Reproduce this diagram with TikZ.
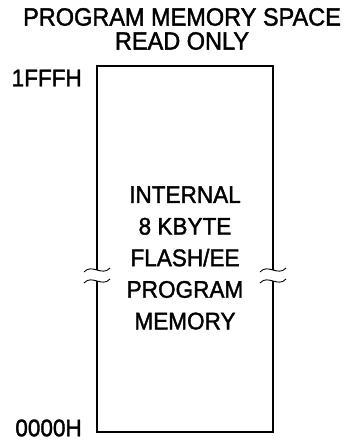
\documentclass[tikz,border=0pt]{standalone}
\usepackage{fontspec}
\setmainfont[FakeBold=1.6,FakeStretch=0.94]{Liberation Sans}
\usepackage{tikz}
\tikzset{
	pics/breakmark/.style={
		code={
			\draw[line width=0.9pt] (-13,2) .. controls (-5,-7) and (5,7) .. (13,-2);
			\draw[line width=0.9pt] (-13,13) .. controls (-5,4) and (5,18) .. (13,9);
		}
	},
	memtext/.style={font=\fontsize{24}{31.6}\selectfont, inner sep=0pt, align=center},
	titletext/.style={font=\fontsize{25}{24}\selectfont, inner sep=0pt, align=center},
	memline/.style={line width=1.3pt}
}

\begin{document}
\begin{tikzpicture}[x=1pt,y=-1pt]
	\useasboundingbox (0,0) rectangle (345,446);

	\node[titletext] (title) at (182,29) {PROGRAM MEMORY SPACE\\READ ONLY};
	\node[memtext, anchor=east] (top) at (82,78) {1FFFH};
	\node[memtext, anchor=east] (bottom) at (82,428) {0000H};

	\draw[memline] (97,270) |- (273,66) -- (273,270);
	\draw[memline] (97,281) |- (273,432) -- (273,281);
	\pic at (97,270) {breakmark};
	\pic at (273,270) {breakmark};

	\node[memtext] (flash) at (185,258) {INTERNAL\\8 KBYTE\\FLASH/EE\\PROGRAM\\MEMORY};
\end{tikzpicture}
\end{document}
